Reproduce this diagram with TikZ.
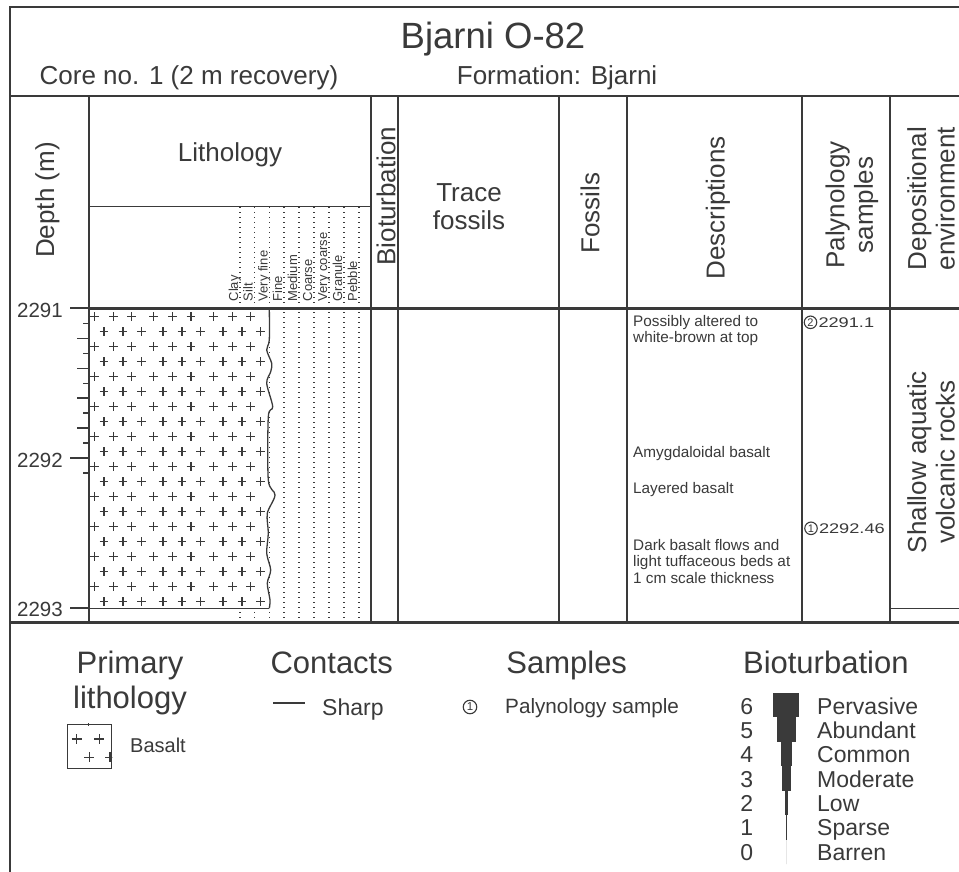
\documentclass[tikz,border=0pt]{standalone}
\usepackage{fontspec}
\usepackage{graphicx}
\setmainfont{Liberation Sans}
\usetikzlibrary{positioning}

\definecolor{ink}{HTML}{3A3A3A}

\tikzset{
  frame/.style={line width=2.6pt, draw=ink},
  rule/.style={line width=1.3pt, draw=ink},
  grainline/.style={draw=ink, line width=1.1pt, dash pattern=on 1pt off 4pt},
  plus/.style={draw=ink, line width=1.4pt},
  lbl/.style={inner sep=0pt, text=ink},
  colhead/.style={lbl, font=\fontsize{26}{28.5}\selectfont, align=center},
  vhead/.style={colhead, rotate=90},
  grain/.style={lbl, font=\fontsize{13}{13}\selectfont, rotate=90, anchor=base west},
  desc/.style={lbl, font=\fontsize{15.3}{16.5}\selectfont, align=left, anchor=north west},
  smp/.style={circle, draw=ink, line width=1.1pt, inner sep=0pt, minimum size=12.5pt, font=\fontsize{11}{11}\selectfont, text=ink},
  smpnum/.style={lbl, font=\fontsize{14}{16}\selectfont},
  legtitle/.style={lbl, font=\fontsize{31}{35}\selectfont, align=center},
  legitem/.style={lbl, font=\fontsize{23}{24}\selectfont, anchor=base west},
}

\begin{document}
\begin{tikzpicture}[x=1pt, y=-1pt]
  \useasboundingbox (0,0) rectangle (959,872);
  \fill[white] (0,0) rectangle (959,872);

  % titolo e intestazione
  \node[lbl, font=\fontsize{36.5}{40}\selectfont, anchor=base] (title) at (493,48.3) {Bjarni O-82};
  \node[lbl, font=\fontsize{26}{28}\selectfont, anchor=base west] (core) at (39.5,85) {Core no. 1 (2 m recovery)};
  \node[lbl, font=\fontsize{26}{28}\selectfont, anchor=base west] (form) at (456.7,85) {Formation: Bjarni};

  % scala granulometrica
  \foreach \x/\g [count=\i] in {240/Clay, 254.5/Silt, 269.3/Very fine, 284/Fine, 299/Medium, 314/Coarse, 329/Very coarse, 344/Granule, 359/Pebble}{
    \draw[grainline] (\x,207) -- (\x,622);
    \node[grain] (g\i) at (\x-1.8,301.5) {\g};
  }

  % basalto
  \begin{scope}
    \clip (89,308.3) -- plot[smooth] coordinates {(269.3,308.3) (269.3,340) (266.7,350) (271.7,363.3) (270.7,371.7) (266.7,383.3) (272.7,406.7) (268.3,416.7) (268.3,480) (275,495) (267.3,513.3) (268.3,533.3) (266.7,553.3) (270.7,570) (267.3,583.3) (270,600) (269.3,608.3)} -- (89,608.3) -- cycle;
    \fill[white] (85,300) rectangle (285,615);
    \foreach \r in {0,...,9}
      \foreach \c in {94.3,113.3,131.7,153.3,172.3,191,213.3,232.3,250.7}{
        \draw[plus] (\c,316.7+30*\r) +(-4.3,0) -- +(4.3,0) +(0,-4.3) -- +(0,4.3);
        \draw[plus] (\c+9.7,331.7+30*\r) +(-4.3,0) -- +(4.3,0) +(0,-4.3) -- +(0,4.3);
      }
  \end{scope}
  \draw[rule] plot[smooth] coordinates {(269.3,308.3) (269.3,340) (266.7,350) (271.7,363.3) (270.7,371.7) (266.7,383.3) (272.7,406.7) (268.3,416.7) (268.3,480) (275,495) (267.3,513.3) (268.3,533.3) (266.7,553.3) (270.7,570) (267.3,583.3) (270,600) (269.3,608.3)};
  \draw[rule] (89,608.3) -- (269.3,608.3); % contatto netto

  % griglia
  \draw[frame] (10,872) -- (10,7) -- (959,7);
  \draw[frame] (10,96) -- (959,96);
  \draw[frame] (89,308.3) -- (959,308.3);
  \draw[frame] (10,622.5) -- (959,622.5);
  \foreach \x in {89,371,398,559,627,802,890} \draw[frame] (\x,96) -- (\x,622.5);
  \draw[rule] (89,206.7) -- (371,206.7);
  \draw[rule] (890,608.3) -- (959,608.3);

  % profondita
  \foreach \i in {1,...,9,11,...,19}{
    \pgfmathsetmacro\tl{mod(\i,2)==0 ? 12 : 6}
    \draw[rule] (89-\tl,308.3+14.97*\i) -- (89,308.3+14.97*\i);
  }
  \foreach \d [count=\i from 0] in {2291,2292,2293}{
    \draw[frame, line width=2.2pt] (70,308.3+149.7*\i) -- (89,308.3+149.7*\i);
    \node[lbl, font=\fontsize{20.5}{22}\selectfont, anchor=east] (d\d) at (63,310.3+149.7*\i) {\d};
  }

  % intestazioni colonne
  \node[colhead, anchor=base] (hLith) at (230,161.7) {Lithology};
  \node[vhead] (hDepth) at (47.5,200) {Depth (m)};
  \node[vhead] (hBio) at (386,196) {Bioturbation};
  \node[colhead] (hTrace) at (469,206.5) {Trace\\fossils};
  \node[vhead] (hFoss) at (590,213) {Fossils};
  \node[vhead] (hDesc) at (718,208) {Descriptions};
  \node[vhead] (hPaly) at (852,205) {Palynology\\samples};
  \node[vhead] (hDepo) at (931,198.5) {Depositional\\environment};

  % descrizioni
  \node[desc] (dsc1) at (633,315.2) {Possibly altered to\\white-brown at top};
  \node[desc] (dsc2) at (633,446.2) {Amygdaloidal basalt};
  \node[desc] (dsc3) at (633,482.2) {Layered basalt};
  \node[desc] (dsc4) at (633,539.2) {Dark basalt flows and\\light tuffaceous beds at\\1 cm scale thickness};

  % campioni
  \node[smp] (s2) at (810.5,322.3) {2};
  \node[smpnum, right=1pt of s2] (s2d) {\scalebox{1.3}[1]{2291.1}};
  \node[smp] (s1) at (811,528.3) {1};
  \node[smpnum, right=1pt of s1] (s1d) {\scalebox{1.3}[1]{2292.46}};

  \node[vhead] (depo) at (931,462) {Shallow aquatic\\volcanic rocks};

  % legenda
  \node[legtitle, anchor=north] (lgLith) at (130,651) {Primary\\lithology};
  \node[legtitle, anchor=base] (lgCont) at (331.7,673.3) {Contacts};
  \node[legtitle, anchor=base] (lgSamp) at (566.7,673.3) {Samples};
  \node[legtitle, anchor=base] (lgBio) at (825.8,673.3) {Bioturbation};

  \node[draw=ink, line width=1.2pt, minimum width=44.4pt, minimum height=44pt, inner sep=0pt] (lgBox) at (89.5,746.3) {};
  \begin{scope}
    \clip (lgBox.south west) rectangle (lgBox.north east);
    \foreach \c/\r in {76.7/739, 99.3/739, 89.3/757.3, 110/757.3, 88.5/720.5}
      \draw[plus, line width=1.5pt] (\c,\r) +(-5,0) -- +(5,0) +(0,-5) -- +(0,5);
  \end{scope}
  \node[legitem, font=\fontsize{20}{22}\selectfont] (lgBasalt) at (130,752) {Basalt};

  \coordinate (shA) at (273,703);
  \coordinate (shB) at (305,703);
  \draw[rule] (shA) -- (shB);
  \node[legitem] (lgSharp) at (322,715) {Sharp};

  \node[smp, minimum size=13.5pt, font=\fontsize{11.5}{12}\selectfont] (lgS1) at (470,707) {1};
  \node[legitem, font=\fontsize{20.7}{22}\selectfont] (lgPaly) at (505,713) {Palynology sample};

  \foreach \n/\w/\lab [count=\i from 0] in {6/26/Pervasive, 5/18.4/Abundant, 4/11.6/Common, 3/8.4/Moderate, 2/3.6/Low, 1/1/Sparse, 0/0/Barren}{
    \fill[ink] (786.3-\w/2,692.7+24.5*\i) rectangle (786.3+\w/2,692.7+24.5*\i+24.5);
    \node[legitem, anchor=base] (bn\n) at (746.7,714.3+24.3*\i) {\n};
    \node[legitem] (bl\n) at (817,714.3+24.3*\i) {\lab};
  }
\end{tikzpicture}
\end{document}
